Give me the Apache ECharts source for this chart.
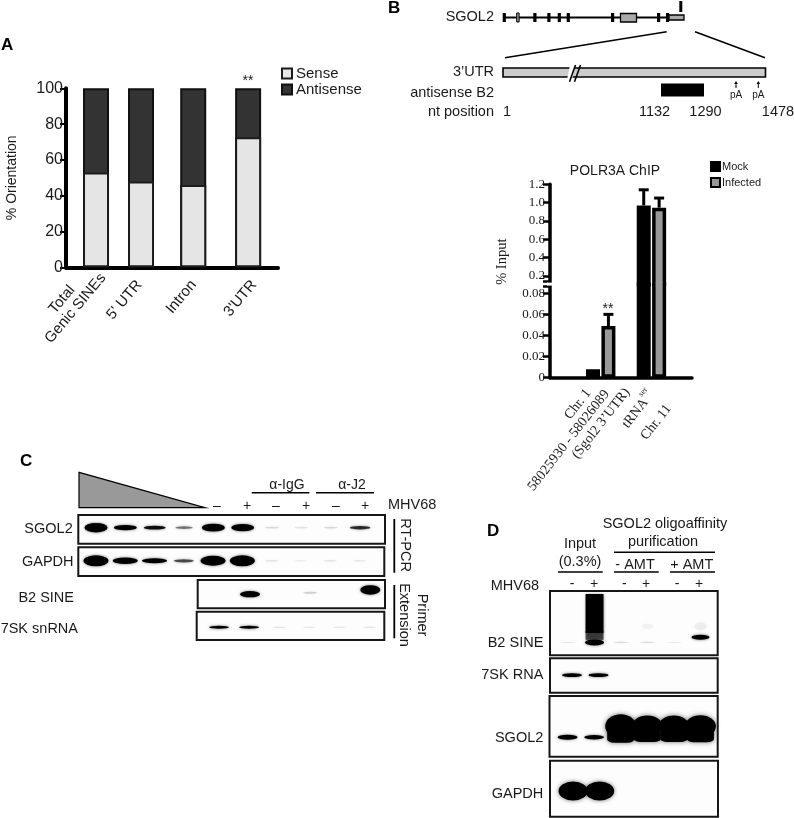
<!DOCTYPE html>
<html><head><meta charset="utf-8">
<style>html,body{margin:0;padding:0;background:#fff}#c{width:794px;height:818px}</style>
<script src="https://cdn.jsdelivr.net/npm/echarts@6/dist/echarts.min.js"></script>
</head><body><div id="c"></div>
<script>
// ---------- Panel A values ----------
const orientationFirstCategory = 'Total' + '\u00a0'.repeat(7) + '\nGenic SINEs';
const orientationCategories = ["5' UTR", 'Intron', "3'UTR"];
const senseValues = [53, 48, 46, 72.6];
const antisenseValues = [47, 52, 54, 27.4];
const orientationTicks = [0, 20, 40, 60, 80, 100];
// ---------- POLR3A ChIP values ----------
const chipSites = ['chr1', 'trna'];
const chipMock = [0.008, 0.97];
const chipInfected = [0.049, 0.945];
const chipMockErrorTop = [null, 1.14];
const chipInfectedErrorTop = [0.06, 1.05];
const chipLowTicks = [0, 0.02, 0.04, 0.06, 0.08];
const chipHighTicks = [0.2, 0.4, 0.6, 0.8, 1.0, 1.2];
// ---------- Blot band signal per lane (relative intensity) ----------
const cSgol2Signal = [1, .45, .3, .15, .8, .7, .03, .02, .03, .25];
const cGapdhSignal = [1.1, .6, .4, .2, 1, 1.1, .02, .01, .02, .015];
const cB2Signal = [0, .6, 0, .04, 0, 1.0];
const c7skSignal = [.4, .45, .02, .015, .015, .02];
const dB2Signal = [.02, 1, .03, .03, .015, 0];
const dB2UpperSignal = [0, 0, 0, 0, 0, .8];
const dB2SmearSignal = [0, 5, 0, 0, 0, 0];
const dB2SmearLowSignal = [0, .7, 0, 0, 0, 0];
const dB2WashSignal = [0, 0, 0, .01, 0, .02];
const d7skSignal = [.5, .5, 0, 0, 0, 0];
const dSgol2InputSignal = [.55, .45, 0, 0, 0, 0];
const dSgol2PulldownSignal = [0, 0, 3.2, 2.8, 2.8, 2.9];
const dGapdhSignal = [2, 2, 0, 0, 0, 0];

const SANS = '"Liberation Sans", Arial, sans-serif';
const SERIF = '"Liberation Serif", "Times New Roman", serif';
const INK = '#1a1a1a';

const grids = [], xAxes = [], yAxes = [], series = [];

// ---------- Panel A ----------
const orientationSlots = [1, 2, 3.16, 4.38];
const orientationLabelOffset = [0.022, -0.04, 0.01, 0.13];
const orientationLabelPos = orientationSlots.map((s, i) => s + orientationLabelOffset[i]);
const orientationLabelStyle = {rotate: 50, fontFamily: SANS, fontSize: 15, color: INK, lineHeight: 16,
  showMinLabel: true, showMaxLabel: true, hideOverlap: false};
grids.push({left: 66, top: 88.3, width: 212, height: 179});
xAxes.push({type: 'value', gridIndex: 0, min: 0.333, max: 5.044,
  splitLine: {show: false},
  axisLine: {onZero: false, lineStyle: {color: '#000', width: 4}},
  axisTick: {show: false},
  axisLabel: {...orientationLabelStyle, customValues: orientationLabelPos.slice(1), margin: 15,
    formatter: v => orientationCategories[orientationLabelPos.slice(1).findIndex(p => Math.abs(p - v) < 1e-6)]}});
yAxes.push({type: 'value', gridIndex: 0, min: 0, max: 100, interval: 20,
  name: '% Orientation', nameLocation: 'middle', nameGap: 47, nameRotate: 90,
  nameTextStyle: {fontFamily: SANS, fontSize: 14, color: INK},
  splitLine: {show: false},
  axisLine: {show: true, onZero: false, lineStyle: {color: '#000', width: 4}},
  axisTick: {show: true, length: 6, lineStyle: {color: '#000', width: 2}},
  axisLabel: {margin: 3, fontFamily: SANS, fontSize: 16, color: INK,
    customValues: orientationTicks}});
const zip = (xs, ys) => ys.map((y, i) => [xs[i], y]);
// The full column (sense + antisense) is drawn first; the sense part sits over its lower end.
series.push({type: 'bar', name: 'Antisense', xAxisIndex: 0, yAxisIndex: 0, barWidth: 26, barGap: '-100%',
  data: zip(orientationSlots, senseValues.map((s, i) => s + antisenseValues[i])),
  itemStyle: {color: '#333333', borderColor: '#111', borderWidth: 2}});
series.push({type: 'bar', name: 'Sense', xAxisIndex: 0, yAxisIndex: 0, barWidth: 26, barGap: '-100%',
  data: zip(orientationSlots, senseValues),
  itemStyle: {color: '#e5e5e5', borderColor: '#1c1c1c', borderWidth: 2}});

// ---------- POLR3A ChIP: broken axis = two stacked grids ----------
const SEAM = 284.5, CHIP_BOTTOM = 377.7, CHIP_TOP = 184.3;
const chipSlots = [1, 2];
const chipLabelPos = [1.29, 2.17];
const chipBarOffset = 0.152;
const chipLabelChr1 = '{a|Chr. 1' + '\u00a0'.repeat(7) + '}\n{a|58025930 - 58026089' + '\u00a0'.repeat(4) + '}\n{a|(Sgol2 3\u2019UTR)}';
const chipLabelTrna = '{c|tRNA}{s|ser}\n{c|Chr. 11}';
const chipHighG = grids.length;
const chipRich = {a: {fontFamily: SERIF, fontSize: 14, color: INK, lineHeight: 15},
  c: {fontFamily: SERIF, fontSize: 14, color: INK, lineHeight: 22},
  s: {fontFamily: SERIF, fontSize: 8, color: INK, lineHeight: 22, verticalAlign: 'top'}};
grids.push({left: 550, top: CHIP_TOP, width: 142, height: SEAM - CHIP_TOP});
xAxes.push({type: 'value', gridIndex: chipHighG, min: 0, max: 2.8,
  splitLine: {show: false}, axisLine: {show: false, onZero: false}, axisTick: {show: false},
  axisLabel: {customValues: [chipLabelPos[1]], rotate: 52, margin: 115, formatter: () => chipLabelTrna,
    showMinLabel: true, showMaxLabel: true, hideOverlap: false, rich: chipRich}});
yAxes.push({type: 'value', gridIndex: chipHighG, min: 0.107, max: 1.2,
  splitLine: {show: false},
  axisLine: {show: true, onZero: false, lineStyle: {color: '#000', width: 3.5}},
  axisTick: {show: true, length: 7, lineStyle: {color: '#000', width: 2.5}, customValues: chipHighTicks.concat([0.138])},
  axisLabel: {margin: 5, fontFamily: SERIF, fontSize: 13, color: INK, customValues: chipHighTicks,
    showMinLabel: true, showMaxLabel: true, hideOverlap: false,
    formatter: v => v.toFixed(1)}});
const chipLowG = grids.length;
grids.push({left: 550, top: SEAM, width: 142, height: CHIP_BOTTOM - SEAM});
xAxes.push({type: 'value', gridIndex: chipLowG, min: 0, max: 2.8,
  splitLine: {show: false},
  axisLine: {onZero: false, lineStyle: {color: '#000', width: 3.5}},
  axisTick: {show: false},
  axisLabel: {customValues: [chipLabelPos[0]], rotate: 52, margin: 3, formatter: () => chipLabelChr1,
    showMinLabel: true, showMaxLabel: true, hideOverlap: false, rich: chipRich}});
yAxes.push({type: 'value', gridIndex: chipLowG, min: 0, max: 0.0883,
  splitLine: {show: false},
  axisLine: {show: true, onZero: false, lineStyle: {color: '#000', width: 3.5}},
  axisTick: {show: true, length: 7, lineStyle: {color: '#000', width: 2.5}, customValues: chipLowTicks.concat([0.0863])},
  axisLabel: {margin: 5, fontFamily: SERIF, fontSize: 13, color: INK, customValues: chipLowTicks,
    showMinLabel: true, showMaxLabel: true, hideOverlap: false,
    formatter: v => v === 0 ? '0' : v.toFixed(2)}});
const chipStyle = {
  Mock: {color: '#000', borderColor: '#000', borderWidth: 3.5},
  Infected: {color: '#999999', borderColor: '#000', borderWidth: 3.5}
};
[['Mock', chipMock], ['Infected', chipInfected]].forEach(([name, vals]) => {
  series.push({type: 'bar', name, xAxisIndex: chipLowG, yAxisIndex: chipLowG, barWidth: 14, barGap: '10%',
    data: zip(chipSlots, vals), itemStyle: chipStyle[name]});
  series.push({type: 'bar', name, xAxisIndex: chipHighG, yAxisIndex: chipHighG, barWidth: 14, barGap: '10%',
    data: zip(chipSlots, vals).map(d => d[1] > 0.107 ? d : [d[0], null]), itemStyle: chipStyle[name]});
});
function errorItem(params, api) {
  const x = api.value(0), top = api.coord([x, api.value(2)]), base = api.coord([x, api.value(1)]);
  const s = {stroke: '#000', lineWidth: 3};
  return {type: 'group', children: [
    {type: 'line', shape: {x1: base[0], y1: base[1], x2: top[0], y2: top[1]}, style: s},
    {type: 'line', shape: {x1: top[0] - 5, y1: top[1], x2: top[0] + 5, y2: top[1]}, style: s}]};
}
const errData = (slots, off, vals, tops, keep) => slots.map((s, i) => [s + off, vals[i], tops[i]]).filter(d => d[2] != null && keep(d[1]));
series.push({type: 'custom', name: 'errLow', xAxisIndex: chipLowG, yAxisIndex: chipLowG, renderItem: errorItem, silent: true, clip: false,
  encode: {x: 0, y: [1, 2]},
  data: errData(chipSlots, chipBarOffset, chipInfected, chipInfectedErrorTop, v => v < 0.08)});
series.push({type: 'custom', name: 'errHigh', xAxisIndex: chipHighG, yAxisIndex: chipHighG, renderItem: errorItem, silent: true, clip: false,
  encode: {x: 0, y: [1, 2]},
  data: errData(chipSlots, -chipBarOffset, chipMock, chipMockErrorTop, v => v > 0.1)
    .concat(errData(chipSlots, chipBarOffset, chipInfected, chipInfectedErrorTop, v => v > 0.1))});

// ---------- Blots ----------
function addBlot(b) {
  const g = grids.length;
  grids.push({show: true, left: b.box[0], top: b.box[1], width: b.box[2], height: b.box[3],
    borderColor: '#161616', borderWidth: 2, backgroundColor: '#fdfdfd'});
  xAxes.push({type: 'value', gridIndex: g, show: false, min: b.lanes[0], max: b.lanes[1]});
  yAxes.push({type: 'value', gridIndex: g, show: false, min: 0, max: 1});
  b.layers.forEach(l => {
    const mig = i => Array.isArray(l.mig) ? l.mig[i] : l.mig;
    series.push({type: 'scatter', name: 'band', xAxisIndex: g, yAxisIndex: g, silent: true,
      symbol: l.symbol || 'circle',
      symbolSize: v => [l.w[0] + l.w[1] * Math.min(1, 3 * v[2]), l.h[0] + l.h[1] * v[2]],
      data: l.signal.map((s, i) => ({value: [b.first + i, mig(i), s],
        itemStyle: {color: '#000', opacity: Math.min(1, (l.fade || 3) * s + 0.03),
          shadowBlur: l.blur === undefined ? 3 : l.blur, shadowColor: 'rgba(0,0,0,.55)'}})).filter(d => d.value[2] > 0)});
  });
}
// panel C
addBlot({box: [78.3, 515, 306.7, 28.7], lanes: [0.396, 10.85], first: 1,
  layers: [{signal: cSgol2Signal, mig: .56, w: [13, 10], h: [1.5, 8]}]});
addBlot({box: [78.3, 547.3, 306, 28.7], lanes: [0.396, 10.85], first: 1,
  layers: [{signal: cGapdhSignal, mig: .53, w: [13, 12], h: [1.5, 8.5]}]});
addBlot({box: [197.7, 580, 187.3, 28.3], lanes: [4.26, 10.49], first: 5,
  layers: [{signal: cB2Signal, mig: [.5, .5, .5, .55, .5, .65], w: [13, 7], h: [1.5, 8]}]});
addBlot({box: [196.7, 611.7, 187.6, 28.3], lanes: [4.26, 10.49], first: 5,
  layers: [{signal: c7skSignal, mig: .45, w: [13, 7], h: [1.2, 4]}]});
// panel D
addBlot({box: [550, 591, 167.7, 64.3], lanes: [0.32, 6.65], first: 1, layers: [
  {signal: dB2WashSignal, mig: .45, w: [12, 0], h: [2, 300], fade: 1, blur: 6},
  {signal: dB2SmearSignal, mig: .65, w: [18, 0], h: [2, 7.4], symbol: 'rect', blur: 3},
  {signal: dB2SmearLowSignal, mig: .31, w: [18, 0], h: [2, 10], symbol: 'rect', fade: .9, blur: 3},
  {signal: dB2Signal, mig: .2, w: [15, 4], h: [1, 5]},
  {signal: dB2UpperSignal, mig: .28, w: [14, 4], h: [1, 5]}]});
addBlot({box: [550, 658.3, 167.7, 34.4], lanes: [0.17, 6.5], first: 1,
  layers: [{signal: d7skSignal, mig: .51, w: [13, 7], h: [1.2, 5]}]});
addBlot({box: [549.5, 696, 168.2, 60.7], lanes: [0.32, 6.65], first: 1, layers: [
  {signal: dSgol2InputSignal, mig: .32, w: [13, 7], h: [1.2, 7]},
  {signal: dSgol2PulldownSignal, mig: .34, w: [27, 0], h: [2, 3.5], symbol: 'roundRect', blur: 5},
  {signal: dSgol2PulldownSignal, mig: .5, w: [31, 0], h: [4, 6.3], blur: 5}]});
addBlot({box: [550, 760.7, 168, 56], lanes: [0.13, 6.46], first: 1,
  layers: [{signal: dGapdhSignal, mig: .46, w: [29, 0], h: [2, 8.5], blur: 4}]});

// Second, line-less x axis on panel A's grid carrying only the two-line first label
xAxes.push({type: 'value', gridIndex: 0, position: 'bottom', min: 0.333, max: 5.044,
  splitLine: {show: false}, axisLine: {show: false, onZero: false}, axisTick: {show: false},
  axisLabel: {...orientationLabelStyle, customValues: [orientationLabelPos[0]], margin: 3,
    formatter: () => orientationFirstCategory}});

// ---------- Annotations / schematics ----------
const gfx = [];
const T = (text, x, y, o = {}) => gfx.push({type: 'text', x, y, rotation: o.rot || 0, z: 50, silent: true,
  style: {text, x: 0, y: 0, fill: o.fill || INK, textAlign: o.align || 'left', textVerticalAlign: 'middle',
    font: `${o.weight || 'normal'} ${o.size || 14}px ${o.family || SANS}`}});
const L = (x1, y1, x2, y2, w = 2, c = '#000') => gfx.push({type: 'line', z: 40, silent: true,
  shape: {x1, y1, x2, y2}, style: {stroke: c, lineWidth: w}});
const R = (x, y, width, height, fill, stroke, lw = 1.5) => gfx.push({type: 'rect', z: 40, silent: true,
  shape: {x, y, width, height}, style: {fill, stroke: stroke || null, lineWidth: lw}});
const P = (points, fill, stroke, lw = 1) => gfx.push({type: 'polygon', z: 40, silent: true,
  shape: {points}, style: {fill, stroke: stroke || null, lineWidth: lw}});

// panel letters
T('A', 1, 45, {size: 17, weight: 'bold', fill: '#000'});
T('B', 388, 8, {size: 17, weight: 'bold', fill: '#000'});
T('C', 20, 461, {size: 17, weight: 'bold', fill: '#000'});
T('D', 487, 531, {size: 17, weight: 'bold', fill: '#000'});

// panel A star
T('**', 248, 81, {size: 14, align: 'center'});

// panel B gene model
T('SGOL2', 494, 17, {align: 'right', size: 14.5});
L(503, 17.5, 668, 17.5, 1.8);
[502.7, 533.3, 547.3, 557.7, 566.7, 611, 657, 666].forEach(x => R(x, 13, 3.2, 9, '#000'));
R(516.7, 13, 2.4, 9, '#999', '#000', 1);
R(620.5, 13.5, 16, 8.5, '#aaa', '#000', 1.3);
R(669, 15, 15, 5, '#aaa', '#000', 1.3);
R(679.3, 1, 3, 11, '#000');
L(666.7, 31.7, 505, 57.7, 1.6);
L(695, 31.7, 765, 57.7, 1.6);
T('3\u2019UTR', 494, 72, {align: 'right', size: 14.5});
R(503, 68, 262.5, 9, '#cccccc', '#000', 1.6);
P([[571, 60], [576, 60], [571, 85], [566, 85]], '#fff');
L(575.5, 65, 569.5, 81.7, 1.6);
L(580.5, 65, 574.5, 81.7, 1.6);
T('antisense B2', 494, 93, {align: 'right', size: 14.5});
R(661, 83.5, 43, 13, '#000');
T('nt position', 494, 112, {align: 'right', size: 14.5});
T('1', 503, 112, {size: 14.5});
T('1132', 654.5, 112, {align: 'center', size: 14.5});
T('1290', 705.5, 112, {align: 'center', size: 14.5});
T('1478', 778, 112, {align: 'center', size: 14.5});
[736, 758.3].forEach(x => {
  L(x, 83, x, 88, 1);
  P([[x - 1.8, 84], [x + 1.8, 84], [x, 81]], '#000');
  T('pA', x, 95, {align: 'center', size: 10});
});

// ChIP text
T('POLR3A ChIP', 615, 170.7, {align: 'center', size: 14});
T('% Input', 501.7, 261.7, {align: 'center', size: 14.5, family: SERIF, rot: Math.PI / 2});
T('**', 608, 309, {align: 'center', size: 14});
// break in the y axis, and the join of the tall infected bar across the two scales
R(547, 282.6, 6, 3, '#fff');
R(655.6, 282, 7, 5, '#999999');

// panel C
P([[79, 472.3], [79, 507.7], [205, 507.7]], '#999999', '#000', 1.2);
T('\u03b1-IgG', 287, 485, {align: 'center', size: 14});
T('\u03b1-J2', 352, 485, {align: 'center', size: 14});
L(251.7, 492.7, 309.3, 492.7, 1.6);
L(316, 492.7, 374, 492.7, 1.6);
T('MHV68', 388, 505, {size: 14.5});
[[217, '\u2013'], [247, '+'], [276, '\u2013'], [306, '+'], [336, '\u2013'], [365, '+']].forEach(([x, s]) => T(s, x, 506, {align: 'center', size: 14}));
T('SGOL2', 72.7, 529, {align: 'right', size: 14.5});
T('GAPDH', 73.5, 561.7, {align: 'right', size: 14.5});
T('B2 SINE', 74, 597.7, {align: 'right', size: 14.5});
T('7SK snRNA', 78, 629, {align: 'right', size: 14.5});
L(394.3, 519, 394.3, 572.7, 1.8);
L(394.3, 585, 394.3, 638.3, 1.8);
T('RT-PCR', 405, 545, {align: 'center', size: 14.5, rot: -Math.PI / 2});
T('Extension', 403.5, 615, {align: 'center', size: 14.5, rot: -Math.PI / 2});
T('Primer', 421.7, 615, {align: 'center', size: 14.5, rot: -Math.PI / 2});

// panel D
T('SGOL2 oligoaffinity', 665, 524, {align: 'center', size: 14.5});
T('purification', 663, 542, {align: 'center', size: 14.5});
T('Input', 580, 544, {align: 'center', size: 14.5});
T('(0.3%)', 580, 562, {align: 'center', size: 14.5});
T('- AMT', 635, 565, {align: 'center', size: 14.5});
T('+ AMT', 691.7, 565, {align: 'center', size: 14.5});
L(614, 552.3, 715, 552.3, 1.6);
L(558, 572, 602.7, 572, 1.6);
L(614, 572, 658.7, 572, 1.6);
L(670, 572, 715, 572, 1.6);
T('MHV68', 490.7, 586, {size: 14.5});
[[572, '-'], [594, '+'], [624.3, '-'], [646, '+'], [677, '-'], [699, '+']].forEach(([x, s]) => T(s, x, 584, {align: 'center', size: 14}));
T('B2 SINE', 543.3, 643, {align: 'right', size: 14.5});
T('7SK RNA', 543.3, 675, {align: 'right', size: 14.5});
T('SGOL2', 543.3, 738, {align: 'right', size: 14.5});
T('GAPDH', 543.3, 794, {align: 'right', size: 14.5});

const chart = echarts.init(document.getElementById('c'), null, {renderer: 'canvas'});
chart.setOption({
  animation: false,
  backgroundColor: '#fff',
  tooltip: {show: false},
  grid: grids, xAxis: xAxes, yAxis: yAxes, series,
  legend: [
    {data: ['Sense', 'Antisense'], orient: 'vertical', left: 276, top: 61, icon: 'rect', itemWidth: 10, itemHeight: 10, itemGap: 1,
     selectedMode: false, textStyle: {fontFamily: SANS, fontSize: 15, color: INK, padding: [0, 0, 0, -1]}},
    {data: ['Mock', 'Infected'], orient: 'vertical', left: 705, top: 156, icon: 'rect', itemWidth: 9, itemHeight: 9, itemGap: 5,
     selectedMode: false, textStyle: {fontFamily: SANS, fontSize: 11, color: INK, padding: [0, 0, 0, -3]}}
  ],
  graphic: gfx
});
</script></body></html>
